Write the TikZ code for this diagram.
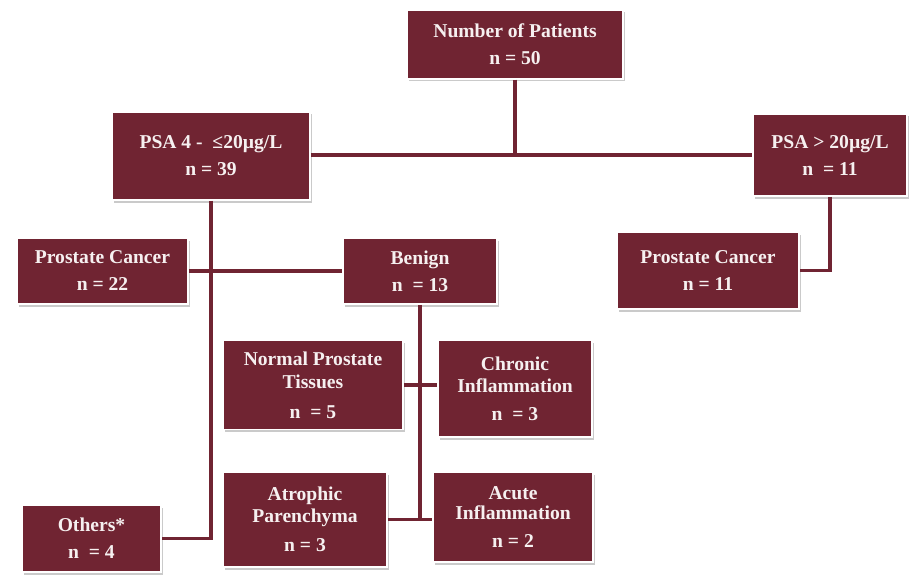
\documentclass[tikz,border=0pt]{standalone}
\usepackage{fontspec}
\setmainfont{Liberation Serif}
\usetikzlibrary{shadows}
\definecolor{maroon}{HTML}{702432}
\definecolor{boxtext}{HTML}{F6F0F0}
\begin{document}
\begin{tikzpicture}[x=1pt,y=-1pt,
  box/.style={draw=white, line width=1.5pt, fill=maroon, text=boxtext,
    font=\bfseries\fontsize{19.6}{27}\selectfont, align=center, inner sep=0pt,
    drop shadow={shadow xshift=1.5pt, shadow yshift=-2.5pt, opacity=0.35, fill=black!60}},
  link/.style={draw=maroon, line width=3.2pt}]
\useasboundingbox (0,0) rectangle (912,575);
\node[box, minimum width=216pt, minimum height=69pt] (top) at (515,44.5) {Number of Patients\\n = 50};
\node[box, minimum width=198pt, minimum height=88pt] (psa1) at (211,156) {PSA 4 -\ \ ≤20µg/L\\n = 39};
\node[box, minimum width=154pt, minimum height=82pt] (psa2) at (830,155) {PSA > 20µg/L\\n \ = 11};
\node[box, minimum width=171pt, minimum height=66pt] (pc1) at (102.5,271) {Prostate Cancer\\n = 22};
\node[box, minimum width=154pt, minimum height=66pt] (benign) at (420,271) {Benign\\n \ = 13};
\node[box, minimum width=182pt, minimum height=77pt] (pc2) at (708,270.5) {Prostate Cancer\\n = 11};
\node[box, minimum width=180pt, minimum height=89pt] (normal) at (313,385) {Normal Prostate\\[-4pt]Tissues\\[3pt]n \ = 5};
\node[box, minimum width=154pt, minimum height=97pt] (chronic) at (515,388.5) {Chronic\\[-5pt]Inflammation\\[1pt]n \ = 3};
\node[box, minimum width=139pt, minimum height=67pt] (others) at (91.5,538.5) {Others*\\n \ = 4};
\node[box, minimum width=164pt, minimum height=95pt] (atrophic) at (305,519.5) {Atrophic\\[-5pt]Parenchyma\\[2pt]n = 3};
\node[box, minimum width=160pt, minimum height=90pt] (acute) at (513,517) {Acute\\[-7pt]Inflammation\\[1pt]n = 2};
\draw[link] (top.south) -- (top.south |- psa2.west);
\draw[link] (psa1.east |- psa2.west) -- (psa2.west);
\draw[link] (psa1.south) |- (others.east);
\draw[link] (pc1.east) -- (benign.west);
\draw[link] (benign.south) -- (benign.south |- atrophic.east);
\draw[link] (normal.east) -- (normal.east -| chronic.west);
\draw[link] (atrophic.east) -- (atrophic.east -| acute.west);
\draw[link] (psa2.south) |- (pc2.east);
\end{tikzpicture}
\end{document}
